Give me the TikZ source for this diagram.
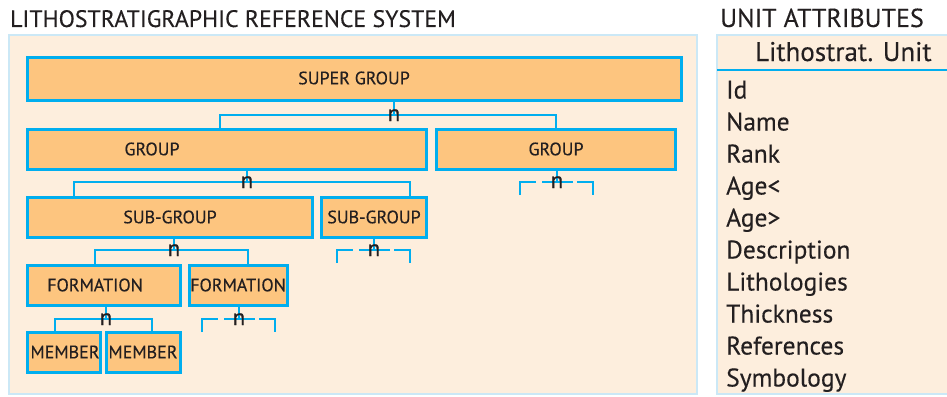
\documentclass[tikz,border=0pt]{standalone}
\usepackage{fontspec}
\setmainfont[FakeBold=0.25]{PT Sans}
\definecolor{bxblue}{HTML}{00AEEF}
\definecolor{bxfill}{HTML}{FDC57F}
\definecolor{panelfill}{HTML}{FDEEDD}
\definecolor{panelline}{HTML}{CBE8F6}
\definecolor{txt}{HTML}{231F20}
\tikzset{
  panel/.style={draw=panelline, fill=panelfill, line width=2pt},
  box/.style={draw=bxblue, fill=bxfill, line width=3pt, inner sep=0pt, outer sep=0pt},
  lbl/.style={text=txt, font=\fontsize{18}{20}\selectfont, inner sep=0pt},
  title/.style={text=txt, font=\fontsize{23.8}{28}\selectfont, inner sep=0pt, anchor=base west},
  hdr/.style={text=txt, font=\fontsize{27}{30}\selectfont, inner sep=0pt, anchor=base west},
  attr/.style={text=txt, font=\fontsize{25.5}{28}\selectfont, inner sep=0pt, anchor=base west},
  nlbl/.style={text=txt, font=\fontsize{23}{24}\selectfont, inner sep=0pt, anchor=base},
  conn/.style={draw=bxblue, line width=2.5pt},
  dashbr/.style={conn, dash pattern=on 29pt off 6pt on 31pt off 4pt on 29pt},
}
\begin{document}
\begin{tikzpicture}[x=1pt,y=-1pt]
\useasboundingbox (0,0) rectangle (947,396);
\clip (0,0) rectangle (947,396);
% panels
\path[panel] (9,35) rectangle (697,394);
\path[panel] (717,35) rectangle (960,394);
\draw[conn] (717,70) -- (947,70);
% titles
\node[title] (t1) at (10,27) {LITHOSTRATIGRAPHIC REFERENCE SYSTEM};
\node[title, font=\fontsize{26}{28}\selectfont] (t2) at (720,27) {UNIT ATTRIBUTES};
\node[hdr] (t3) at (755,61) {Lithostrat. Unit};
% attributes
\node[attr] (a1) at (726,98.5) {Id};
\node[attr] (a2) at (726,130.5) {Name};
\node[attr] (a3) at (726,162.5) {Rank};
\node[attr] (a4) at (726,194.5) {Age<};
\node[attr] (a5) at (726,226.5) {Age>};
\node[attr] (a6) at (726,258.5) {Description};
\node[attr] (a7) at (726,290.5) {Lithologies};
\node[attr] (a8) at (726,322.5) {Thickness};
\node[attr] (a9) at (726,354.5) {References};
\node[attr] (a10) at (726,386.5) {Symbology};
% boxes
\node[box, minimum width=654pt, minimum height=43pt] (sg) at (354.5,79) {};
\node[box, minimum width=399pt, minimum height=40pt] (g1) at (227,149.5) {};
\node[box, minimum width=239pt, minimum height=40pt] (g2) at (556,149.5) {};
\node[box, minimum width=285pt, minimum height=40pt] (sg1) at (170,217.5) {};
\node[box, minimum width=105pt, minimum height=40pt] (sg2) at (374,217.5) {};
\node[box, minimum width=153pt, minimum height=40pt] (f1) at (104,285.5) {};
\node[box, minimum width=98pt, minimum height=40pt] (f2) at (238.5,285.5) {};
\node[box, minimum width=73pt, minimum height=40pt] (m1) at (64,352.5) {};
\node[box, minimum width=74pt, minimum height=40pt] (m2) at (143.5,352.5) {};
% box labels
\node[lbl] (sgt) at (354,78) {SUPER GROUP};
\node[lbl] (g1t) at (152,149) {GROUP};
\node[lbl] (g2t) at (556,149) {GROUP};
\node[lbl] (sg1t) at (170,217) {SUB-GROUP};
\node[lbl] (sg2t) at (374,217) {SUB-GROUP};
\node[lbl] (f1t) at (95,285) {FORMATION};
\node[lbl] (f2t) at (238,285) {FORMATION};
\node[lbl] (m1t) at (65,352) {MEMBER};
\node[lbl] (m2t) at (143,352) {MEMBER};
% junctions
\coordinate (j1) at (394,115);
\coordinate (k1) at (220,0);
\coordinate (j2) at (247,182);
\coordinate (k2a) at (74,0);
\coordinate (k2b) at (410,0);
\coordinate (j3) at (174,250);
\coordinate (k3a) at (95,0);
\coordinate (k3b) at (248,0);
\coordinate (j4) at (106,319);
\coordinate (k4a) at (55,0);
\coordinate (k4b) at (152,0);
% solid connectors
\draw[conn] (sg.south -| j1) -- (j1);
\draw[conn] (g1.north -| k1) |- (j1) -| (g2.north);
\draw[conn] (g1.south -| j2) -- (j2);
\draw[conn] (sg1.north -| k2a) |- (j2) -| (sg2.north -| k2b);
\draw[conn] (sg1.south -| j3) -- (j3);
\draw[conn] (f1.north -| k3a) |- (j3) -| (f2.north -| k3b);
\draw[conn] (f1.south -| j4) -- (j4);
\draw[conn] (m1.north -| k4a) |- (j4) -| (m2.north -| k4b);
% dashed open connectors
\coordinate (j5) at (557,182);
\coordinate (d5a) at (520,195);
\coordinate (d5b) at (593,195);
\draw[conn] (g2.south -| j5) -- (j5);
\draw[dashbr] (d5a) |- (j5) -| (d5b);
\coordinate (j6) at (374,250);
\coordinate (d6a) at (337,263);
\coordinate (d6b) at (410,263);
\draw[conn] (sg2.south -| j6) -- (j6);
\draw[dashbr] (d6a) |- (j6) -| (d6b);
\coordinate (j7) at (239,319);
\coordinate (d7a) at (202,332);
\coordinate (d7b) at (275,332);
\draw[conn] (f2.south -| j7) -- (j7);
\draw[dashbr] (d7a) |- (j7) -| (d7b);
% n labels
\node[nlbl] (n1) at (394,121) {n};
\node[nlbl] (n2) at (247,188) {n};
\node[nlbl] (n3) at (174,256) {n};
\node[nlbl] (n4) at (106,325) {n};
\node[nlbl] (n5) at (557,188) {n};
\node[nlbl] (n6) at (374,256) {n};
\node[nlbl] (n7) at (239,325) {n};
\end{tikzpicture}
\end{document}
